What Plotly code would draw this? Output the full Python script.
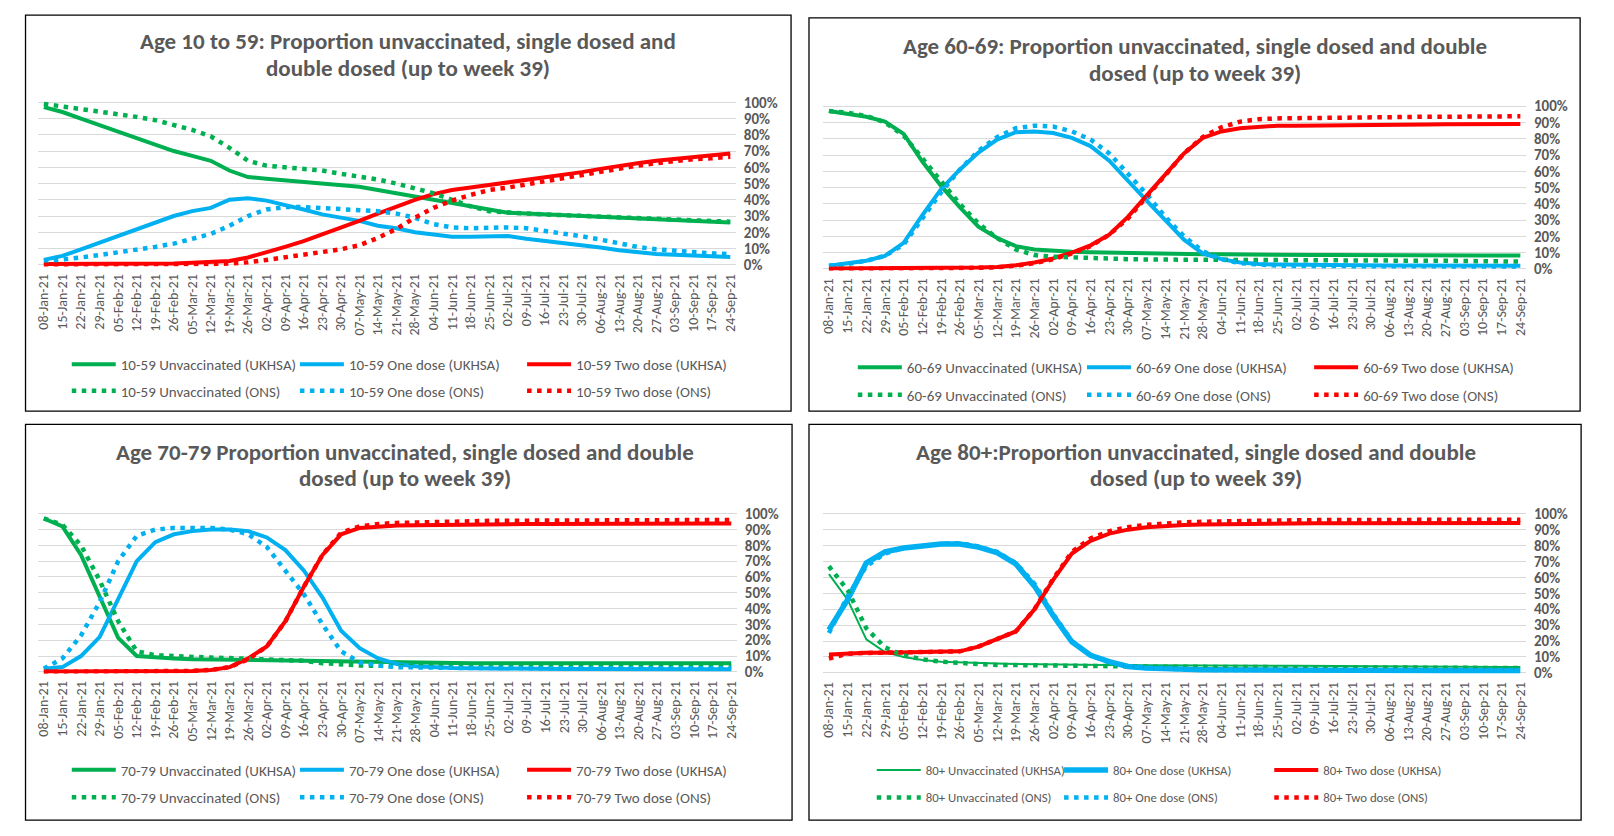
import plotly.graph_objects as go

W, H = 1614, 836

weeks = ["08-Jan-21", "15-Jan-21", "22-Jan-21", "29-Jan-21", "05-Feb-21", "12-Feb-21", "19-Feb-21",
         "26-Feb-21", "05-Mar-21", "12-Mar-21", "19-Mar-21", "26-Mar-21", "02-Apr-21", "09-Apr-21",
         "16-Apr-21", "23-Apr-21", "30-Apr-21", "07-May-21", "14-May-21", "21-May-21", "28-May-21",
         "04-Jun-21", "11-Jun-21", "18-Jun-21", "25-Jun-21", "02-Jul-21", "09-Jul-21", "16-Jul-21",
         "23-Jul-21", "30-Jul-21", "06-Aug-21", "13-Aug-21", "20-Aug-21", "27-Aug-21", "03-Sep-21",
         "10-Sep-21", "17-Sep-21", "24-Sep-21"]

# ---- Age 10-59 (percent) ----
a1059_unvac_ukhsa = [97, 94, 90, 86, 82, 78, 74, 70, 67, 64, 58, 54, 53, 52, 51, 50, 49, 48, 46, 44, 42, 40,
                     38, 36, 34, 32, 31.5, 31, 30.5, 30, 30, 29.5, 29, 28.5, 28, 27.5, 27, 26]
a1059_one_ukhsa = [3, 5.5, 9.5, 13.5, 18, 22, 26, 30, 33, 35, 40, 41, 39.5, 37, 34, 31, 29, 27, 24, 22.5, 20,
                   18.8, 17.3, 17.3, 17.7, 17.7, 16, 14.7, 13.3, 12.3, 10.7, 9, 7.7, 6.7, 6.2, 5.6, 5, 4.8]
a1059_two_ukhsa = [0.5, 0.5, 0.5, 0.5, 0.5, 0.5, 0.5, 0.8, 1.2, 1.7, 2.3, 4.5, 7.5, 11, 14.5, 18.5, 22.5, 27,
                   31.5, 36, 40, 43.5, 46, 47.5, 49, 50.5, 52, 54, 55.5, 57, 59, 61, 62.5, 64, 65, 66, 67, 68.5]
a1059_unvac_ons = [99, 97.5, 96, 94.5, 93, 91, 89, 86, 83, 79, 72, 64, 61, 60, 59, 58, 56, 54.5, 52.5, 50, 47,
                   44, 40, 36, 33, 32, 31.5, 31, 30.5, 30, 29.5, 29, 28.5, 28, 27.5, 27.5, 27, 26.5]
a1059_one_ons = [2, 3, 4.5, 6, 7.5, 9, 11, 13, 16, 19, 24, 30, 34, 35.5, 35.5, 35, 34.5, 34, 33, 31.5, 29, 25,
                 23, 22.5, 23, 23, 22.5, 21, 19.5, 17.5, 15.5, 13, 11, 9.5, 8.5, 7.5, 7, 6.5]
a1059_two_ons = [0, 0, 0, 0, 0, 0, 0, 0, 0.2, 0.5, 0.8, 1.5, 3, 4.5, 6, 7.5, 9.5, 12, 16.5, 22, 29, 35, 39.5,
                 43, 46, 47.5, 49.5, 51.5, 53.5, 55.5, 57.5, 59.5, 61, 62.5, 64, 65, 65.5, 66.5]

# ---- Age 60-69 (percent) ----
a6069_unvac_ukhsa = [97, 95.5, 93.5, 90.5, 83, 66, 51, 38, 26, 19, 14, 12, 11, 10.5, 10.3, 10, 10, 9.8, 9.5,
                     9.3, 9, 9, 8.8, 8.7, 8.6, 8.5, 8.5, 8.5, 8.4, 8.4, 8.3, 8.3, 8.3, 8.2, 8.2, 8.2, 8.2, 8.2]
a6069_one_ukhsa = [2, 3.3, 5, 8, 16, 33, 49, 61, 71.5, 79.5, 84, 84.5, 83.5, 80.5, 75.5, 66.5, 54, 42, 30, 18,
                   9.5, 6, 4, 3, 2.7, 2.5, 2.4, 2.3, 2.2, 2.2, 2.1, 2.1, 2, 2, 2, 2, 2, 2]
a6069_two_ukhsa = [0.2, 0.2, 0.2, 0.2, 0.3, 0.4, 0.5, 0.6, 0.8, 1.2, 2.2, 4, 6.5, 10, 14.5, 21, 32, 45, 58,
                   71, 80.5, 84.5, 86.5, 87.5, 88, 88, 88.2, 88.4, 88.5, 88.6, 88.7, 88.8, 88.8, 88.9, 88.9,
                   89, 89, 89]
a6069_unvac_ons = [97, 96, 94, 90, 82, 68, 53, 40, 28, 19, 12, 8.5, 7.5, 7, 6.5, 6.2, 6, 5.8, 5.7, 5.6, 5.5,
                   5.5, 5.4, 5.4, 5.4, 5.4, 5.3, 5.3, 5.3, 5.2, 5.2, 5.1, 5, 5, 4.8, 4.7, 4.6, 4.5]
a6069_one_ons = [2, 3, 5, 8, 15, 31, 47, 61, 72.5, 81, 86.5, 88, 87.5, 84.5, 79.5, 71, 59, 46, 32, 20, 11, 6,
                 3.5, 2.5, 2, 1.8, 1.7, 1.6, 1.6, 1.5, 1.5, 1.5, 1.5, 1.5, 1.5, 1.5, 1.5, 1.5]
a6069_two_ons = [0, 0, 0, 0, 0.2, 0.3, 0.4, 0.5, 0.7, 1, 2, 3.5, 6, 9.5, 14, 21, 31, 44, 58, 71, 81, 87, 90.5,
                 92, 92.5, 92.7, 92.9, 93, 93.1, 93.2, 93.3, 93.4, 93.5, 93.5, 93.6, 93.7, 93.8, 93.8]

# ---- Age 70-79 (percent) ----
a7079_unvac_ukhsa = [97, 92, 74, 48, 21.5, 10, 9, 8.5, 8, 7.8, 7.6, 7.4, 7.2, 7, 6.8, 6.6, 6.4, 6.2, 6, 5.9,
                     5.8, 5.7, 5.6, 5.5, 5.5, 5.5, 5.5, 5.5, 5.5, 5.4, 5.4, 5.4, 5.4, 5.4, 5.4, 5.4, 5.4, 5.4]
a7079_one_ukhsa = [2, 3, 10, 22, 46, 70, 82, 87, 89, 90, 90, 89, 85, 77, 64, 47, 26, 15, 8.5, 5, 3.5, 2.8,
                   2.4, 2.2, 2, 2, 1.9, 1.9, 1.8, 1.8, 1.7, 1.7, 1.7, 1.6, 1.6, 1.6, 1.6, 1.6]
a7079_two_ukhsa = [0.2, 0.2, 0.2, 0.2, 0.2, 0.3, 0.4, 0.5, 0.6, 1.2, 3, 8.5, 16, 32, 54, 74, 87, 91, 92,
                   92.5, 92.8, 93, 93.2, 93.3, 93.4, 93.5, 93.5, 93.5, 93.6, 93.6, 93.6, 93.7, 93.7, 93.7,
                   93.8, 93.8, 93.8, 93.8]
a7079_unvac_ons = [97, 93, 80, 58, 32, 13, 10.5, 9.8, 9.3, 9, 8.7, 8.4, 8, 7.7, 7, 5.5, 4.5, 4, 3.8, 3.7,
                   3.6, 3.6, 3.5, 3.5, 3.5, 3.5, 3.5, 3.5, 3.5, 3.5, 3.5, 3.5, 3.5, 3.5, 3.5, 3.5, 3.5, 3.5]
a7079_one_ons = [2, 8.5, 23, 44, 70, 86, 90, 91, 91, 91, 90, 87, 79, 64, 49, 30, 13, 6, 4, 3, 2.7, 2.5, 2.5,
                 2.4, 2.4, 2.3, 2.3, 2.3, 2.2, 2.2, 2.2, 2.2, 2.2, 2.2, 2.2, 2.2, 2.2, 2.2]
a7079_two_ons = [0, 0, 0, 0, 0, 0.2, 0.3, 0.4, 0.6, 1.2, 3, 8, 16, 32, 54, 74, 88, 92, 93.5, 94.2, 94.6, 95,
                 95.2, 95.4, 95.5, 95.6, 95.7, 95.8, 95.8, 95.9, 95.9, 96, 96, 96, 96, 96, 96, 96]

# ---- Age 80+ (percent) ----
a80_unvac_ukhsa = [62, 46, 21, 13, 10, 8, 7, 6.5, 6, 5.8, 5.6, 5.4, 5.2, 5.1, 5, 4.9, 4.8, 4.7, 4.6, 4.6,
                   4.5, 4.5, 4.5, 4.4, 4.4, 4.4, 4.3, 4.3, 4.3, 4.2, 4.2, 4.1, 4, 3.9, 3.8, 3.7, 3.7, 3.7]
a80_one_ukhsa = [27, 46, 69, 76, 78.5, 80, 81, 81, 79, 75.5, 68.5, 54.5, 36, 19.5, 11, 7, 4, 3, 2.5, 2.2, 2,
                 1.9, 1.8, 1.7, 1.7, 1.6, 1.6, 1.6, 1.5, 1.5, 1.5, 1.5, 1.5, 1.5, 1.5, 1.5, 1.5, 1.5]
a80_two_ukhsa = [11.5, 12.3, 12.6, 12.7, 12.8, 12.9, 13, 13.5, 16.5, 21, 26, 40, 58.5, 75, 83, 87.5, 90,
                 91.5, 92.5, 93, 93.3, 93.5, 93.6, 93.7, 93.8, 93.9, 94, 94, 94, 94, 94.1, 94.1, 94.1, 94.2,
                 94.2, 94.2, 94.2, 94.2]
a80_unvac_ons = [67, 52, 28, 16, 11, 8.5, 7, 6, 5.5, 5, 4.8, 4.6, 4.4, 4.3, 4.2, 4.1, 4, 3.9, 3.8, 3.8, 3.7,
                 3.7, 3.6, 3.6, 3.6, 3.5, 3.5, 3.5, 3.4, 3.4, 3.3, 3.3, 3.2, 3.1, 3, 3, 3, 3]
a80_one_ons = [25, 48, 67, 75, 78.5, 80, 81, 81.5, 79.5, 76, 69, 56, 37, 20, 11, 6.5, 4, 3, 2.5, 2, 1.9, 1.8,
               1.7, 1.7, 1.6, 1.6, 1.6, 1.5, 1.5, 1.5, 1.5, 1.5, 1.5, 1.5, 1.5, 1.5, 1.5, 1.5]
a80_two_ons = [9, 12, 12.5, 12.6, 12.7, 12.8, 12.9, 13.5, 16.5, 21, 26, 40, 59, 76, 84.5, 89, 91.5, 93, 94,
               94.6, 95, 95.3, 95.5, 95.7, 95.8, 95.9, 96, 96, 96.1, 96.1, 96.2, 96.2, 96.2, 96.3, 96.3,
               96.3, 96.3, 96.3]

FONT = "Calibri, Carlito, Lato, 'Open Sans', sans-serif"
GREY = "#595959"
GREEN, BLUE, RED = "#00B050", "#00B0F0", "#FF0000"
SERIES_LABELS = ["Unvaccinated (UKHSA)", "One dose (UKHSA)", "Two dose (UKHSA)",
                 "Unvaccinated (ONS)", "One dose (ONS)", "Two dose (ONS)"]
COLORS = [GREEN, BLUE, RED, GREEN, BLUE, RED]


def fx(px):
    return px / W


def fy(py):
    return 1 - py / H


XR = [-0.3, 37.3]
YR = [-0.01, 1.01]

panels = [
    dict(age="10-59",
         data=[a1059_unvac_ukhsa, a1059_one_ukhsa, a1059_two_ukhsa, a1059_unvac_ons, a1059_one_ons, a1059_two_ons],
         title=["Age 10 to 59: Proportion unvaccinated, single dosed and", "double dosed (up to week 39)"],
         tx=407, ty=[35, 62], x0=41, x37=730, y0=262.5, y100=97,
         box=(22.6, 8.3, 791, 411.6), cols=[69, 298, 526], rows=[364, 391], widths=[4, 4, 4], lfs=15),
    dict(age="60-69",
         data=[a6069_unvac_ukhsa, a6069_one_ukhsa, a6069_two_ukhsa, a6069_unvac_ons, a6069_one_ons, a6069_two_ons],
         title=["Age 60-69: Proportion unvaccinated, single dosed and double", "dosed (up to week 39)"],
         tx=1196, ty=[40, 67], x0=829, x37=1523, y0=266.7, y100=101,
         box=(809, 11, 1583, 411.6), cols=[858, 1088, 1316], rows=[367, 395], widths=[4, 4, 4], lfs=15),
    dict(age="70-79",
         data=[a7079_unvac_ukhsa, a7079_one_ukhsa, a7079_two_ukhsa, a7079_unvac_ons, a7079_one_ons, a7079_two_ons],
         title=["Age 70-79 Proportion unvaccinated, single dosed and double", "dosed (up to week 39)"],
         tx=403, ty=[453, 480], x0=41, x37=731, y0=677, y100=516,
         box=(22.6, 425, 792, 828), cols=[69, 298, 526], rows=[777, 805], widths=[4, 4, 4], lfs=15),
    dict(age="80+",
         data=[a80_unvac_ukhsa, a80_one_ukhsa, a80_two_ukhsa, a80_unvac_ons, a80_one_ons, a80_two_ons],
         title=["Age 80+:Proportion unvaccinated, single dosed and double", "dosed (up to week 39)"],
         tx=1197, ty=[453, 480], x0=829, x37=1523, y0=678, y100=516,
         box=(809, 425, 1584, 828), cols=[877, 1065, 1276], rows=[777, 805], widths=[2, 5.5, 4], lfs=12.8),
]

fig = go.Figure()
layout = dict(width=W, height=H, margin=dict(l=0, r=0, t=0, b=0),
              paper_bgcolor="white", plot_bgcolor="white", showlegend=True,
              font=dict(family=FONT, color=GREY))
annotations = []
shapes = []
legend_n = 0

for pi, p in enumerate(panels):
    k = "" if pi == 0 else str(pi + 1)
    s = (p["x37"] - p["x0"]) / 37.0
    xdom = [fx(p["x0"] + XR[0] * s), fx(p["x0"] + XR[1] * s)]
    sy = p["y0"] - p["y100"]
    ydom = [fy(p["y0"] - YR[0] * sy), fy(p["y0"] - YR[1] * sy)]
    layout["xaxis" + k] = dict(domain=xdom, anchor="y" + k, type="category", range=XR,
                               tickangle=-90, showgrid=False, zeroline=False, showline=False,
                               ticks="", ticklabelstandoff=4,
                               tickfont=dict(family=FONT, size=14, color=GREY))
    layout["yaxis" + k] = dict(domain=ydom, anchor="x" + k, side="right", range=YR,
                               tick0=0, dtick=0.1, tickformat=".0%", showgrid=True,
                               gridcolor="#D9D9D9", gridwidth=1, zeroline=False, showline=False,
                               ticks="", ticklabelstandoff=7,
                               tickfont=dict(family=FONT, size=15, color=GREY, weight="bold"))
    for si in range(6):
        legend_n += 1
        lk = "legend" if legend_n == 1 else "legend" + str(legend_n)
        ons = si >= 3
        if ons:
            line = dict(color=COLORS[si], width=4.5, dash="4.5px,5.5px")
        else:
            line = dict(color=COLORS[si], width=p["widths"][si])
        fig.add_trace(go.Scatter(
            x=weeks, y=[v / 100.0 for v in p["data"][si]], mode="lines",
            name=p["age"] + " " + SERIES_LABELS[si], line=line,
            xaxis="x" + k, yaxis="y" + k, legend=lk, hoverinfo="skip"))
        col = si % 3
        row = si // 3
        layout[lk] = dict(x=fx(p["cols"][col] - 5), xanchor="left",
                          y=fy(p["rows"][row]), yanchor="middle",
                          orientation="h", bgcolor="rgba(0,0,0,0)", borderwidth=0,
                          itemwidth=44, font=dict(family=FONT, size=p["lfs"], color=GREY),
                          itemclick=False, itemdoubleclick=False)
    for li, txt in enumerate(p["title"]):
        annotations.append(dict(text="<b>" + txt + "</b>", xref="paper", yref="paper",
                                x=fx(p["tx"]), y=fy(p["ty"][li]), xanchor="center", yanchor="middle",
                                showarrow=False, font=dict(family=FONT, size=23, color=GREY)))
    bx0, by0, bx1, by1 = p["box"]
    shapes.append(dict(type="rect", xref="paper", yref="paper",
                       x0=fx(bx0), x1=fx(bx1), y0=fy(by1), y1=fy(by0),
                       line=dict(color="#000000", width=1.3), fillcolor="rgba(0,0,0,0)"))

layout["annotations"] = annotations
layout["shapes"] = shapes
fig.update_layout(**layout)

fig.write_html("out.html", config={"displayModeBar": False},
               post_script="document.body.style.margin='0';document.body.style.overflow='hidden';")
